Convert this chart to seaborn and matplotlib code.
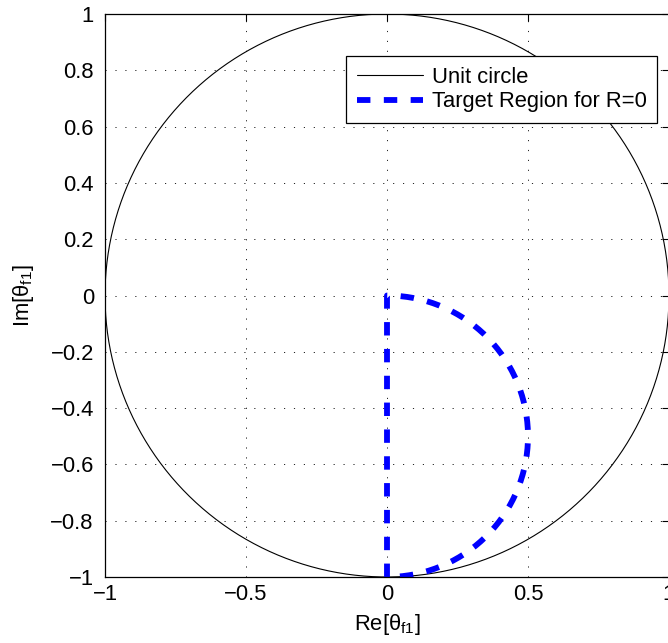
import matplotlib
matplotlib.use('Agg')
import numpy as np
import pandas as pd
import matplotlib.pyplot as plt
import seaborn as sns

sns.set_style('white')
plt.rcParams['font.family'] = ['Liberation Sans', 'DejaVu Sans']
plt.rcParams['mathtext.fontset'] = 'custom'
plt.rcParams['mathtext.rm'] = 'Liberation Sans'
plt.rcParams['mathtext.it'] = 'Liberation Sans:italic'
plt.rcParams['text.color'] = 'black'
plt.rcParams['axes.labelcolor'] = 'black'
plt.rcParams['xtick.color'] = 'black'
plt.rcParams['ytick.color'] = 'black'

# ── Data ────────────────────────────────────────────────────────────────────
UNIT_CENTER = (0.0, 0.0)
UNIT_RADIUS = 1.0
TARGET_CENTER = (0.0, -0.5)
TARGET_RADIUS = 0.5
X_TICKS = [-1, -0.5, 0, 0.5, 1]
Y_TICKS = [-1, -0.8, -0.6, -0.4, -0.2, 0, 0.2, 0.4, 0.6, 0.8, 1]
X_TICKLABELS = ['\u22121', '\u22120.5', '0', '0.5', '1']
Y_TICKLABELS = ['\u22121', '\u22120.8', '\u22120.6', '\u22120.4', '\u22120.2',
                '0', '0.2', '0.4', '0.6', '0.8', '1']
LABELS = ['Unit circle', 'Target Region for R=0']

# unit circle
t = np.linspace(0, 2 * np.pi, 400)
circle = pd.DataFrame({'x': UNIT_CENTER[0] + UNIT_RADIUS * np.cos(t),
                       'y': UNIT_CENTER[1] + UNIT_RADIUS * np.sin(t)})

# target region: segment on imaginary axis then right half-circle
a = np.linspace(np.pi / 2, -np.pi / 2, 200)
tx = np.concatenate([[TARGET_CENTER[0], TARGET_CENTER[0]],
                     TARGET_CENTER[0] + TARGET_RADIUS * np.cos(a)])
ty = np.concatenate([[TARGET_CENTER[1] - TARGET_RADIUS, TARGET_CENTER[1] + TARGET_RADIUS],
                     TARGET_CENTER[1] + TARGET_RADIUS * np.sin(a)])
target = pd.DataFrame({'x': tx, 'y': ty})

# ── Figure ──────────────────────────────────────────────────────────────────
FS = 15.8
fig = plt.figure(figsize=(6.68, 6.43), dpi=100)
ax = fig.add_axes([105 / 668, 66 / 643, 564 / 668, 563 / 643])

sns.lineplot(data=circle, x='x', y='y', sort=False, estimator=None, ax=ax,
             color='black', linewidth=0.8, label=LABELS[0])
sns.lineplot(data=target, x='x', y='y', sort=False, estimator=None, ax=ax,
             color='#0000ff', linewidth=4.2, linestyle=(0, (2.3, 2.3)),
             label=LABELS[1])

ax.set_xlim(-1, 1)
ax.set_ylim(-1, 1)
ax.set_xticks(X_TICKS)
ax.set_yticks(Y_TICKS)
ax.set_xticklabels(X_TICKLABELS)
ax.set_yticklabels(Y_TICKLABELS)
ax.tick_params(direction='in', length=5, width=0.8, labelsize=FS,
               top=True, right=True)
ax.tick_params(axis='x', pad=5)
ax.tick_params(axis='y', pad=8)
ax.grid(True, color='black', linestyle=(0, (1.4, 10.5)), linewidth=0.6)
for s in ax.spines.values():
    s.set_color('black')
    s.set_linewidth(0.9)

ax.set_xlabel(r'Re[$\mathrm{\theta}_{\mathrm{f1}}$]', fontsize=FS, labelpad=5)
ax.set_ylabel(r'Im[$\mathrm{\theta}_{\mathrm{f1}}$]', fontsize=FS, labelpad=10)

leg = ax.legend(loc='upper left', bbox_to_anchor=(346 / 668, 1 - 56 / 643),
                bbox_transform=fig.transFigure, fontsize=FS, frameon=True,
                fancybox=False, framealpha=1, edgecolor='black',
                handlelength=3.0, handletextpad=0.4, borderpad=0.5,
                labelspacing=0.15, borderaxespad=0)
leg.get_frame().set_linewidth(0.9)

fig.savefig('out.png', dpi=100)
